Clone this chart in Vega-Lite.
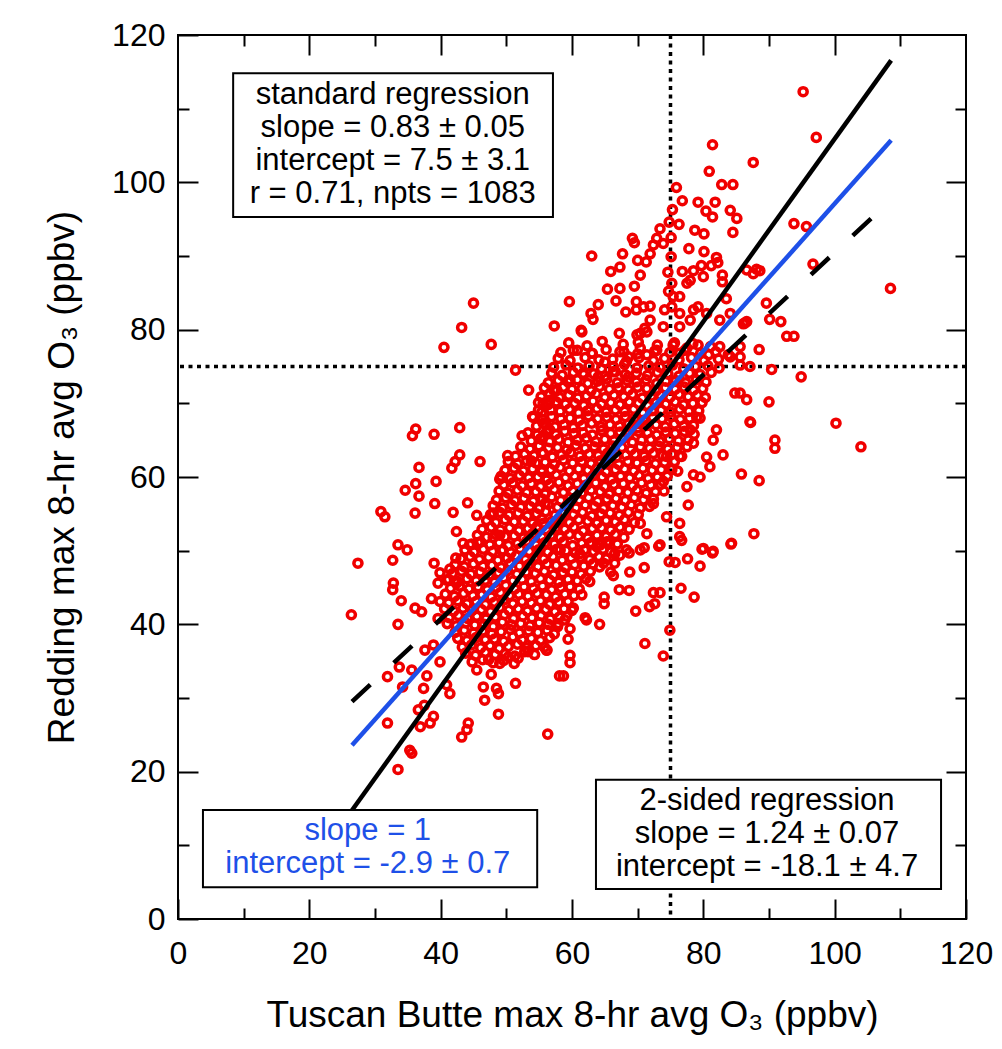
{
  "$schema": "https://vega.github.io/schema/vega-lite/v6.json",
  "width": 788,
  "height": 884,
  "autosize": "none",
  "padding": {"left": 178, "top": 35, "right": 36, "bottom": 130},
  "background": "white",
  "config": {
    "view": {"stroke": "black", "strokeWidth": 2},
    "font": "Liberation Sans",
    "axis": {"domain": false, "grid": false, "tickColor": "black", "tickWidth": 2, "labelColor": "black", "titleColor": "black", "titleFontWeight": "normal", "labelFont": "Liberation Sans", "titleFont": "Liberation Sans"}
  },
  "resolve": {"axis": {"x": "independent", "y": "independent"}},
  "datasets": {
    "pts": [
{"x":45.0,"y":83.6},{"x":43.2,"y":80.3},{"x":40.5,"y":77.6},{"x":47.7,"y":78.0},{"x":57.3,"y":80.5},{"x":51.4,"y":74.5},{"x":53.4,"y":71.8},{"x":57.5,"y":71.7},{"x":55.6,"y":70.0},{"x":54.9,"y":69.1},{"x":54.0,"y":68.2},{"x":36.2,"y":66.5},{"x":35.7,"y":65.6},{"x":39.0,"y":65.8},{"x":42.9,"y":66.7},{"x":52.4,"y":65.6},{"x":55.4,"y":65.1},{"x":42.9,"y":63.0},{"x":42.2,"y":62.1},{"x":41.7,"y":61.2},{"x":46.0,"y":62.1},{"x":50.2,"y":62.9},{"x":53.8,"y":62.2},{"x":55.5,"y":63.3},{"x":36.7,"y":61.3},{"x":39.3,"y":59.4},{"x":36.2,"y":59.1},{"x":34.6,"y":58.2},{"x":36.7,"y":57.4},{"x":39.1,"y":56.4},{"x":44.1,"y":56.5},{"x":30.9,"y":55.3},{"x":31.5,"y":54.6},{"x":36.1,"y":55.1},{"x":41.9,"y":55.2},{"x":45.5,"y":54.8},{"x":48.0,"y":55.1},{"x":49.0,"y":59.7},
{"x":27.4,"y":48.3},{"x":26.4,"y":41.3},{"x":33.5,"y":50.8},{"x":34.9,"y":50.1},{"x":32.7,"y":48.7},{"x":32.8,"y":45.6},{"x":32.7,"y":44.7},{"x":34.0,"y":43.2},{"x":33.5,"y":40.0},{"x":31.9,"y":32.9},{"x":31.9,"y":26.6},{"x":35.3,"y":22.9},{"x":35.6,"y":22.5},{"x":33.5,"y":20.3},{"x":33.7,"y":34.2},{"x":35.6,"y":33.8},{"x":34.2,"y":31.5},{"x":37.4,"y":31.3},{"x":37.9,"y":33.0},{"x":36.6,"y":28.4},{"x":37.5,"y":29.0},{"x":38.9,"y":27.5},{"x":38.4,"y":26.6},{"x":36.9,"y":26.1},{"x":39.0,"y":48.3},{"x":39.9,"y":47.0},{"x":41.4,"y":47.5},{"x":42.3,"y":49.0},{"x":42.4,"y":52.6},{"x":43.4,"y":51.0},{"x":44.4,"y":50.8},{"x":45.7,"y":51.1},{"x":48.0,"y":51.8},{"x":49.0,"y":52.1},{"x":49.5,"y":50.1},{"x":39.6,"y":45.6},{"x":40.9,"y":46.0},{"x":42.4,"y":45.6},{"x":36.1,"y":42.2},{"x":37.1,"y":41.7},{"x":38.6,"y":43.5},{"x":39.9,"y":43.1},{"x":39.6,"y":40.8},{"x":37.6,"y":36.5},{"x":38.9,"y":37.2},{"x":39.9,"y":34.9},{"x":40.9,"y":31.8},{"x":41.4,"y":30.6},{"x":44.2,"y":26.6},{"x":44.0,"y":25.7},{"x":43.2,"y":24.7},{"x":45.5,"y":33.8},{"x":47.7,"y":33.2},{"x":46.5,"y":31.5},{"x":48.5,"y":31.3},{"x":48.8,"y":30.6},{"x":46.7,"y":29.7},{"x":51.4,"y":32.0},{"x":48.8,"y":27.8},{"x":56.3,"y":25.1},{"x":53.3,"y":36.3},{"x":56.1,"y":36.5},{"x":51.8,"y":35.4},{"x":50.3,"y":35.6},{"x":49.0,"y":34.7},{"x":47.3,"y":35.2},{"x":58.1,"y":33.0},
{"x":81.4,"y":105.1},{"x":87.6,"y":102.7},{"x":80.9,"y":101.5},{"x":82.8,"y":99.7},{"x":84.5,"y":99.7},{"x":75.9,"y":99.3},{"x":76.8,"y":97.5},{"x":79.2,"y":97.3},{"x":81.8,"y":97.3},{"x":80.4,"y":96.1},{"x":81.4,"y":95.3},{"x":84.1,"y":96.2},{"x":85.1,"y":95.1},{"x":84.5,"y":93.2},{"x":75.3,"y":96.3},{"x":74.8,"y":94.6},{"x":76.3,"y":94.3},{"x":73.4,"y":93.7},{"x":78.7,"y":93.5},{"x":80.1,"y":93.0},{"x":69.2,"y":92.4},{"x":69.5,"y":91.8},{"x":72.9,"y":92.4},{"x":72.4,"y":91.5},{"x":73.9,"y":91.7},{"x":75.1,"y":92.5},{"x":63.0,"y":90.0},{"x":67.7,"y":90.3},{"x":70.0,"y":89.4},{"x":71.3,"y":89.2},{"x":71.9,"y":90.3},{"x":75.1,"y":89.9},{"x":77.8,"y":91.0},{"x":80.1,"y":90.6},{"x":82.0,"y":89.8},{"x":82.2,"y":89.1},{"x":65.9,"y":87.9},{"x":67.3,"y":88.5},{"x":70.4,"y":87.4},{"x":74.6,"y":87.8},{"x":76.8,"y":87.9},{"x":78.5,"y":88.0},{"x":79.7,"y":88.7},{"x":81.2,"y":88.7},{"x":82.9,"y":87.4},{"x":82.9,"y":86.5},{"x":86.6,"y":88.1},{"x":87.6,"y":87.6},{"x":59.6,"y":83.8},{"x":64.0,"y":83.4},{"x":65.4,"y":85.5},{"x":67.3,"y":85.6},{"x":69.5,"y":85.9},{"x":66.7,"y":83.9},{"x":68.2,"y":82.4},{"x":62.9,"y":82.2},{"x":63.2,"y":81.4},{"x":61.4,"y":79.9},{"x":67.2,"y":79.5},{"x":69.8,"y":83.8},{"x":70.9,"y":83.1},{"x":71.9,"y":83.2},{"x":69.8,"y":82.7},{"x":75.2,"y":86.3},{"x":77.5,"y":86.3},{"x":78.0,"y":86.7},{"x":74.7,"y":85.2},{"x":75.4,"y":84.5},{"x":76.4,"y":84.5},{"x":80.0,"y":87.2},{"x":74.1,"y":82.7},{"x":75.2,"y":83.1},{"x":76.4,"y":82.2},{"x":78.5,"y":82.7},{"x":79.2,"y":83.1},{"x":80.5,"y":82.2},{"x":83.5,"y":84.2},{"x":84.1,"y":82.2},{"x":86.1,"y":80.8},{"x":82.5,"y":81.3},{"x":71.9,"y":81.3},{"x":73.9,"y":80.4},{"x":76.4,"y":80.4},{"x":78.0,"y":81.3},{"x":71.1,"y":80.2},{"x":70.4,"y":79.5},
{"x":95.2,"y":112.3},{"x":97.2,"y":106.1},{"x":93.8,"y":94.4},{"x":95.7,"y":94.0},{"x":88.1,"y":88.2},{"x":88.6,"y":88.0},{"x":96.7,"y":88.9},{"x":108.5,"y":85.6},{"x":89.6,"y":83.6},{"x":86.3,"y":80.9},{"x":86.6,"y":81.1},{"x":90.1,"y":81.4},{"x":91.8,"y":81.1},{"x":92.7,"y":79.1},{"x":93.8,"y":79.1},{"x":85.6,"y":77.7},{"x":85.6,"y":76.3},{"x":88.5,"y":77.3},{"x":87.1,"y":75.0},{"x":90.4,"y":74.6},{"x":94.9,"y":73.6},{"x":86.6,"y":70.5},{"x":90.0,"y":70.2},{"x":85.6,"y":71.4},{"x":87.2,"y":67.4},{"x":100.2,"y":67.3},{"x":90.9,"y":65.0},{"x":90.9,"y":63.9},{"x":104.0,"y":64.1},{"x":85.8,"y":60.4},{"x":88.5,"y":59.5},{"x":87.7,"y":52.3},
{"x":71.0,"y":50.4},{"x":73.2,"y":50.6},{"x":76.7,"y":51.4},{"x":79.8,"y":50.2},{"x":81.4,"y":49.7},{"x":84.2,"y":50.9},{"x":74.8,"y":48.5},{"x":75.7,"y":48.4},{"x":77.6,"y":48.9},{"x":79.5,"y":47.9},{"x":68.7,"y":49.7},{"x":67.3,"y":49.4},{"x":71.0,"y":47.7},{"x":68.8,"y":47.1},{"x":65.9,"y":47.1},{"x":66.3,"y":46.6},{"x":67.2,"y":44.7},{"x":68.7,"y":44.6},{"x":72.4,"y":44.3},{"x":73.4,"y":44.3},{"x":72.6,"y":42.8},{"x":71.8,"y":42.4},{"x":76.6,"y":44.9},{"x":78.6,"y":43.7},{"x":69.7,"y":41.8},{"x":74.9,"y":39.2},{"x":71.1,"y":37.4},{"x":73.9,"y":35.7},{"x":64.9,"y":43.7},{"x":64.9,"y":42.8},{"x":62.0,"y":40.9},{"x":62.2,"y":40.6},{"x":64.2,"y":40.0},{"x":61.5,"y":44.0},{"x":62.7,"y":45.8},{"x":60.2,"y":42.2},{"x":59.7,"y":39.4},{"x":59.4,"y":38.0},{"x":59.7,"y":35.8},{"x":59.7,"y":34.8},{"x":58.7,"y":33.0},{"x":56.2,"y":36.5},{"x":57.9,"y":40.1},{"x":58.9,"y":40.6},{"x":64.8,"y":48.3},{"x":66.5,"y":48.3},{"x":62.7,"y":51.0},{"x":63.8,"y":50.5},{"x":65.3,"y":51.2},
{"x":61.5,"y":79.7},{"x":69.9,"y":79.3},{"x":71.4,"y":79.7},{"x":60.2,"y":77.2},{"x":63.0,"y":76.8},{"x":65.0,"y":75.6},{"x":67.3,"y":77.0},{"x":68.6,"y":76.3},{"x":70.4,"y":77.5},{"x":71.4,"y":76.6},{"x":72.9,"y":77.2},{"x":75.4,"y":77.9},{"x":76.4,"y":76.8},{"x":77.5,"y":77.5},{"x":79.2,"y":77.9},{"x":80.8,"y":76.6},{"x":82.5,"y":77.7},{"x":84.1,"y":76.3},{"x":85.6,"y":75.2},{"x":57.7,"y":71.8},{"x":59.7,"y":73.2},{"x":61.7,"y":74.1},{"x":64.0,"y":73.6},{"x":66.3,"y":74.3},{"x":68.6,"y":73.6},{"x":56.6,"y":70.4},{"x":55.6,"y":67.3},{"x":56.6,"y":66.4},{"x":55.6,"y":65.5},{"x":55.4,"y":61.0},{"x":56.1,"y":59.6},{"x":55.9,"y":56.4},{"x":55.6,"y":53.7},{"x":84.8,"y":71.4},{"x":87.1,"y":67.5},{"x":83.0,"y":63.0},{"x":77.7,"y":56.2},{"x":76.4,"y":51.9},{"x":80.0,"y":50.3},{"x":81.5,"y":49.9},{"x":84.3,"y":51.0},{"x":82.0,"y":66.4},{"x":81.5,"y":65.0},{"x":80.5,"y":62.7},{"x":81.0,"y":61.4},{"x":78.5,"y":60.3},{"x":77.5,"y":58.7},{"x":79.5,"y":60.0},{"x":79.5,"y":68.0},{"x":78.0,"y":66.4},{"x":78.5,"y":64.6},{"x":76.4,"y":62.8},{"x":74.4,"y":62.8},{"x":75.2,"y":61.0},{"x":73.9,"y":59.4},{"x":72.4,"y":56.4},{"x":74.4,"y":54.6},{"x":76.4,"y":53.7},{"x":70.4,"y":53.7},{"x":71.4,"y":52.3},{"x":73.4,"y":50.8},{"x":66.5,"y":49.6},{"x":68.3,"y":50.1},{"x":70.4,"y":50.1},{"x":64.0,"y":51.0},{"x":61.2,"y":49.6},{"x":58.2,"y":50.1},
{"x":59.5,"y":78.2},{"x":62.3,"y":77.8},{"x":64.6,"y":78.4},{"x":67.8,"y":78.0},{"x":70.1,"y":78.3},{"x":73.0,"y":77.9},{"x":75.6,"y":78.2},{"x":78.4,"y":78.1},{"x":81.1,"y":77.7},
{"x":58.3,"y":76.9},{"x":60.8,"y":77.2},{"x":63.1,"y":76.8},{"x":65.2,"y":77.3},{"x":67.9,"y":77.0},{"x":70.0,"y":76.7},{"x":72.6,"y":77.1},{"x":74.9,"y":76.9},{"x":77.2,"y":77.2},{"x":79.6,"y":76.8},{"x":81.9,"y":77.0},{"x":83.8,"y":76.6},
{"x":57.9,"y":76.1},{"x":59.7,"y":75.8},{"x":62.0,"y":76.2},{"x":64.1,"y":75.9},{"x":66.2,"y":76.0},{"x":68.3,"y":75.7},{"x":70.2,"y":76.2},{"x":72.4,"y":75.8},{"x":74.1,"y":76.1},{"x":76.3,"y":75.9},{"x":78.2,"y":76.2},{"x":80.1,"y":75.8},{"x":82.3,"y":76.0},
{"x":57.2,"y":74.9},{"x":59.1,"y":75.2},{"x":60.9,"y":74.8},{"x":62.6,"y":75.1},{"x":64.5,"y":74.7},{"x":66.3,"y":75.0},{"x":68.0,"y":75.3},{"x":69.9,"y":74.8},{"x":71.7,"y":75.1},{"x":73.4,"y":74.9},{"x":75.3,"y":75.2},{"x":77.0,"y":74.7},{"x":78.8,"y":75.0},{"x":80.7,"y":75.1},{"x":82.4,"y":74.8},
{"x":56.9,"y":74.1},{"x":58.5,"y":73.8},{"x":60.2,"y":74.2},{"x":61.8,"y":73.9},{"x":63.3,"y":74.0},{"x":65.0,"y":73.7},{"x":66.6,"y":74.3},{"x":68.1,"y":73.9},{"x":69.8,"y":74.1},{"x":71.5,"y":73.8},{"x":73.0,"y":74.2},{"x":74.6,"y":74.0},{"x":76.3,"y":73.7},{"x":77.9,"y":74.1},{"x":79.5,"y":73.9},{"x":81.2,"y":74.2},
{"x":56.4,"y":72.8},{"x":57.9,"y":73.1},{"x":59.4,"y":72.9},{"x":60.8,"y":73.2},{"x":62.4,"y":72.7},{"x":63.9,"y":73.0},{"x":65.3,"y":73.3},{"x":66.9,"y":72.8},{"x":68.4,"y":73.1},{"x":69.8,"y":72.9},{"x":71.3,"y":73.2},{"x":72.9,"y":72.7},{"x":74.3,"y":73.0},{"x":75.8,"y":73.1},{"x":77.3,"y":72.8},{"x":78.9,"y":73.2},{"x":80.4,"y":72.9},
{"x":55.8,"y":72.1},{"x":57.2,"y":71.8},{"x":58.7,"y":72.2},{"x":60.0,"y":71.9},{"x":61.5,"y":72.0},{"x":62.9,"y":71.7},{"x":64.2,"y":72.3},{"x":65.7,"y":71.9},{"x":67.1,"y":72.1},{"x":68.6,"y":71.8},{"x":70.0,"y":72.2},{"x":71.4,"y":72.0},{"x":72.8,"y":71.7},{"x":74.2,"y":72.1},{"x":75.7,"y":71.9},{"x":77.1,"y":72.2},{"x":78.5,"y":71.8},{"x":79.9,"y":72.0},
{"x":55.3,"y":70.9},{"x":56.6,"y":71.2},{"x":58.1,"y":70.8},{"x":59.5,"y":71.1},{"x":60.9,"y":70.7},{"x":62.2,"y":71.0},{"x":63.7,"y":71.3},{"x":65.0,"y":70.8},{"x":66.4,"y":71.1},{"x":67.9,"y":70.9},{"x":69.2,"y":71.2},{"x":70.7,"y":70.7},{"x":72.1,"y":71.0},{"x":73.5,"y":71.1},{"x":74.9,"y":70.8},{"x":76.3,"y":71.2},{"x":77.7,"y":70.9},{"x":79.1,"y":71.1},{"x":80.3,"y":70.8},
{"x":54.9,"y":70.1},{"x":56.3,"y":69.8},{"x":57.6,"y":70.2},{"x":59.0,"y":69.9},{"x":60.4,"y":70.0},{"x":61.8,"y":69.7},{"x":63.2,"y":70.3},{"x":64.5,"y":69.9},{"x":65.9,"y":70.1},{"x":67.3,"y":69.8},{"x":68.7,"y":70.2},{"x":70.1,"y":70.0},{"x":71.5,"y":69.7},{"x":72.8,"y":70.1},{"x":74.3,"y":69.9},{"x":75.7,"y":70.2},{"x":77.0,"y":69.8},{"x":78.4,"y":70.0},{"x":79.8,"y":70.1},
{"x":55.4,"y":68.8},{"x":56.8,"y":69.1},{"x":58.2,"y":68.9},{"x":59.6,"y":69.2},{"x":61.0,"y":68.7},{"x":62.4,"y":69.0},{"x":63.8,"y":69.3},{"x":65.2,"y":68.8},{"x":66.6,"y":69.1},{"x":68.0,"y":68.9},{"x":69.4,"y":69.2},{"x":70.8,"y":68.7},{"x":72.2,"y":69.0},{"x":73.6,"y":69.1},{"x":75.0,"y":68.8},{"x":76.4,"y":69.2},{"x":77.8,"y":68.9},{"x":79.3,"y":69.0},
{"x":54.1,"y":68.1},{"x":55.5,"y":67.8},{"x":56.9,"y":68.2},{"x":58.3,"y":67.9},{"x":59.7,"y":68.0},{"x":61.1,"y":67.7},{"x":62.5,"y":68.3},{"x":63.9,"y":67.9},{"x":65.3,"y":68.1},{"x":66.7,"y":67.8},{"x":68.1,"y":68.2},{"x":69.5,"y":68.0},{"x":70.9,"y":67.7},{"x":72.3,"y":68.1},{"x":73.7,"y":67.9},{"x":75.1,"y":68.2},{"x":76.5,"y":67.8},{"x":77.9,"y":68.0},{"x":79.0,"y":68.1},
{"x":54.6,"y":66.9},{"x":56.0,"y":67.2},{"x":57.4,"y":66.8},{"x":58.8,"y":67.1},{"x":60.2,"y":66.7},{"x":61.6,"y":67.0},{"x":63.0,"y":67.3},{"x":64.4,"y":66.8},{"x":65.8,"y":67.1},{"x":67.2,"y":66.9},{"x":68.6,"y":67.2},{"x":70.0,"y":66.7},{"x":71.4,"y":67.0},{"x":72.8,"y":67.1},{"x":74.2,"y":66.8},{"x":75.6,"y":67.2},{"x":77.0,"y":66.9},{"x":78.5,"y":67.0},
{"x":53.3,"y":66.0},{"x":54.7,"y":65.7},{"x":56.1,"y":66.1},{"x":57.5,"y":65.8},{"x":58.9,"y":66.2},{"x":60.3,"y":65.9},{"x":61.7,"y":66.0},{"x":63.1,"y":65.7},{"x":64.5,"y":66.3},{"x":65.9,"y":65.9},{"x":67.3,"y":66.1},{"x":68.7,"y":65.8},{"x":70.1,"y":66.2},{"x":71.5,"y":66.0},{"x":72.9,"y":65.7},{"x":74.3,"y":66.1},{"x":75.7,"y":65.9},{"x":77.1,"y":66.2},{"x":78.6,"y":65.8},
{"x":53.8,"y":64.9},{"x":55.2,"y":65.2},{"x":56.6,"y":64.8},{"x":58.0,"y":65.1},{"x":59.4,"y":64.7},{"x":60.8,"y":65.0},{"x":62.2,"y":65.3},{"x":63.6,"y":64.8},{"x":65.0,"y":65.1},{"x":66.4,"y":64.9},{"x":67.8,"y":65.2},{"x":69.2,"y":64.7},{"x":70.6,"y":65.0},{"x":72.0,"y":65.1},{"x":73.4,"y":64.8},{"x":74.8,"y":65.2},{"x":76.2,"y":64.9},{"x":77.7,"y":65.0},
{"x":52.2,"y":64.1},{"x":53.6,"y":63.8},{"x":55.0,"y":64.2},{"x":56.4,"y":63.9},{"x":57.8,"y":64.0},{"x":59.2,"y":63.7},{"x":60.6,"y":64.3},{"x":62.0,"y":63.9},{"x":63.4,"y":64.1},{"x":64.8,"y":63.8},{"x":66.2,"y":64.2},{"x":67.6,"y":64.0},{"x":69.0,"y":63.7},{"x":70.4,"y":64.1},{"x":71.8,"y":63.9},{"x":73.2,"y":64.2},{"x":74.6,"y":63.8},{"x":76.0,"y":64.0},{"x":77.5,"y":64.1},
{"x":51.4,"y":62.8},{"x":52.8,"y":63.1},{"x":54.2,"y":62.9},{"x":55.6,"y":63.2},{"x":57.0,"y":62.7},{"x":58.4,"y":63.0},{"x":59.8,"y":63.3},{"x":61.2,"y":62.8},{"x":62.6,"y":63.1},{"x":64.0,"y":62.9},{"x":65.4,"y":63.2},{"x":66.8,"y":62.7},{"x":68.2,"y":63.0},{"x":69.6,"y":63.1},{"x":71.0,"y":62.8},{"x":72.4,"y":63.2},{"x":73.8,"y":62.9},{"x":75.2,"y":63.1},{"x":76.7,"y":62.8},
{"x":50.3,"y":62.1},{"x":51.7,"y":61.8},{"x":53.1,"y":62.2},{"x":54.5,"y":61.9},{"x":55.9,"y":62.0},{"x":57.3,"y":61.7},{"x":58.7,"y":62.3},{"x":60.1,"y":61.9},{"x":61.5,"y":62.1},{"x":62.9,"y":61.8},{"x":64.3,"y":62.2},{"x":65.7,"y":62.0},{"x":67.1,"y":61.7},{"x":68.5,"y":62.1},{"x":69.9,"y":61.9},{"x":71.3,"y":62.2},{"x":72.7,"y":61.8},{"x":74.1,"y":62.0},{"x":75.6,"y":62.1},
{"x":49.8,"y":60.9},{"x":51.2,"y":61.2},{"x":52.6,"y":60.8},{"x":54.0,"y":61.1},{"x":55.4,"y":60.7},{"x":56.8,"y":61.0},{"x":58.2,"y":61.3},{"x":59.6,"y":60.8},{"x":61.0,"y":61.1},{"x":62.4,"y":60.9},{"x":63.8,"y":61.2},{"x":65.2,"y":60.7},{"x":66.6,"y":61.0},{"x":68.0,"y":61.1},{"x":69.4,"y":60.8},{"x":70.8,"y":61.2},{"x":72.2,"y":60.9},{"x":73.6,"y":61.0},{"x":75.0,"y":61.1},{"x":76.1,"y":60.8},
{"x":49.2,"y":60.1},{"x":50.6,"y":59.8},{"x":52.0,"y":60.2},{"x":53.4,"y":59.9},{"x":54.8,"y":60.0},{"x":56.2,"y":59.7},{"x":57.6,"y":60.3},{"x":59.0,"y":59.9},{"x":60.4,"y":60.1},{"x":61.8,"y":59.8},{"x":63.2,"y":60.2},{"x":64.6,"y":60.0},{"x":66.0,"y":59.7},{"x":67.4,"y":60.1},{"x":68.8,"y":59.9},{"x":70.2,"y":60.2},{"x":71.6,"y":59.8},{"x":73.0,"y":60.0},{"x":74.5,"y":60.1},
{"x":49.6,"y":58.9},{"x":51.0,"y":59.2},{"x":52.4,"y":58.8},{"x":53.8,"y":59.1},{"x":55.2,"y":58.7},{"x":56.6,"y":59.0},{"x":58.0,"y":59.3},{"x":59.4,"y":58.8},{"x":60.8,"y":59.1},{"x":62.2,"y":58.9},{"x":63.6,"y":59.2},{"x":65.0,"y":58.7},{"x":66.4,"y":59.0},{"x":67.8,"y":59.1},{"x":69.2,"y":58.8},{"x":70.6,"y":59.2},{"x":72.0,"y":58.9},{"x":73.5,"y":59.0},
{"x":48.9,"y":58.1},{"x":50.3,"y":57.8},{"x":51.7,"y":58.2},{"x":53.1,"y":57.9},{"x":54.5,"y":58.0},{"x":55.9,"y":57.7},{"x":57.3,"y":58.3},{"x":58.7,"y":57.9},{"x":60.1,"y":58.1},{"x":61.5,"y":57.8},{"x":62.9,"y":58.2},{"x":64.3,"y":58.0},{"x":65.7,"y":57.7},{"x":67.1,"y":58.1},{"x":68.5,"y":57.9},{"x":69.9,"y":58.2},{"x":71.3,"y":57.8},{"x":72.7,"y":58.0},{"x":74.0,"y":58.1},
{"x":48.5,"y":56.9},{"x":49.9,"y":57.2},{"x":51.3,"y":56.8},{"x":52.7,"y":57.1},{"x":54.1,"y":56.7},{"x":55.5,"y":57.0},{"x":56.9,"y":57.3},{"x":58.3,"y":56.8},{"x":59.7,"y":57.1},{"x":61.1,"y":56.9},{"x":62.5,"y":57.2},{"x":63.9,"y":56.7},{"x":65.3,"y":57.0},{"x":66.7,"y":57.1},{"x":68.1,"y":56.8},{"x":69.5,"y":57.2},{"x":70.9,"y":56.9},{"x":72.4,"y":57.0},
{"x":48.0,"y":56.1},{"x":49.4,"y":55.8},{"x":50.8,"y":56.2},{"x":52.2,"y":55.9},{"x":53.6,"y":56.0},{"x":55.0,"y":55.7},{"x":56.4,"y":56.3},{"x":57.8,"y":55.9},{"x":59.2,"y":56.1},{"x":60.6,"y":55.8},{"x":62.0,"y":56.2},{"x":63.4,"y":56.0},{"x":64.8,"y":55.7},{"x":66.2,"y":56.1},{"x":67.6,"y":55.9},{"x":69.0,"y":56.2},{"x":70.4,"y":55.8},{"x":71.8,"y":56.0},
{"x":47.6,"y":54.9},{"x":49.0,"y":55.2},{"x":50.4,"y":54.8},{"x":51.8,"y":55.1},{"x":53.2,"y":54.7},{"x":54.6,"y":55.0},{"x":56.0,"y":55.3},{"x":57.4,"y":54.8},{"x":58.8,"y":55.1},{"x":60.2,"y":54.9},{"x":61.6,"y":55.2},{"x":63.0,"y":54.7},{"x":64.4,"y":55.0},{"x":65.8,"y":55.1},{"x":67.2,"y":54.8},{"x":68.6,"y":55.2},{"x":70.1,"y":54.9},
{"x":47.0,"y":54.1},{"x":48.4,"y":53.8},{"x":49.8,"y":54.2},{"x":51.2,"y":53.9},{"x":52.6,"y":54.0},{"x":54.0,"y":53.7},{"x":55.4,"y":54.3},{"x":56.8,"y":53.9},{"x":58.2,"y":54.1},{"x":59.6,"y":53.8},{"x":61.0,"y":54.2},{"x":62.4,"y":54.0},{"x":63.8,"y":53.7},{"x":65.2,"y":54.1},{"x":66.6,"y":53.9},{"x":68.0,"y":54.2},{"x":69.5,"y":53.8},
{"x":46.3,"y":52.9},{"x":47.7,"y":53.2},{"x":49.1,"y":52.8},{"x":50.5,"y":53.1},{"x":51.9,"y":52.7},{"x":53.3,"y":53.0},{"x":54.7,"y":53.3},{"x":56.1,"y":52.8},{"x":57.5,"y":53.1},{"x":58.9,"y":52.9},{"x":60.3,"y":53.2},{"x":61.7,"y":52.7},{"x":63.1,"y":53.0},{"x":64.5,"y":53.1},{"x":65.9,"y":52.8},{"x":67.3,"y":53.2},{"x":68.7,"y":52.9},
{"x":45.6,"y":52.1},{"x":47.0,"y":51.8},{"x":48.4,"y":52.2},{"x":49.8,"y":51.9},{"x":51.2,"y":52.0},{"x":52.6,"y":51.7},{"x":54.0,"y":52.3},{"x":55.4,"y":51.9},{"x":56.8,"y":52.1},{"x":58.2,"y":51.8},{"x":59.6,"y":52.2},{"x":61.0,"y":52.0},{"x":62.4,"y":51.7},{"x":63.8,"y":52.1},{"x":65.2,"y":51.9},{"x":66.6,"y":52.2},{"x":67.9,"y":51.8},
{"x":44.7,"y":50.9},{"x":46.1,"y":51.2},{"x":47.5,"y":50.8},{"x":48.9,"y":51.1},{"x":50.3,"y":50.7},{"x":51.7,"y":51.0},{"x":53.1,"y":51.3},{"x":54.5,"y":50.8},{"x":55.9,"y":51.1},{"x":57.3,"y":50.9},{"x":58.7,"y":51.2},{"x":60.1,"y":50.7},{"x":61.5,"y":51.0},{"x":62.9,"y":51.1},{"x":64.3,"y":50.8},{"x":65.7,"y":51.2},{"x":66.9,"y":50.9},
{"x":43.7,"y":50.1},{"x":45.1,"y":49.8},{"x":46.5,"y":50.2},{"x":47.9,"y":49.9},{"x":49.3,"y":50.0},{"x":50.7,"y":49.7},{"x":52.1,"y":50.3},{"x":53.5,"y":49.9},{"x":54.9,"y":50.1},{"x":56.3,"y":49.8},{"x":57.7,"y":50.2},{"x":59.1,"y":50.0},{"x":60.5,"y":49.7},{"x":61.9,"y":50.1},{"x":63.3,"y":49.9},{"x":64.7,"y":50.2},{"x":65.9,"y":49.8},
{"x":43.1,"y":48.9},{"x":44.5,"y":49.2},{"x":45.9,"y":48.8},{"x":47.3,"y":49.1},{"x":48.7,"y":48.7},{"x":50.1,"y":49.0},{"x":51.5,"y":49.3},{"x":52.9,"y":48.8},{"x":54.3,"y":49.1},{"x":55.7,"y":48.9},{"x":57.1,"y":49.2},{"x":58.5,"y":48.7},{"x":59.9,"y":49.0},{"x":61.3,"y":49.1},{"x":62.7,"y":48.8},{"x":64.1,"y":49.2},{"x":65.2,"y":48.9},
{"x":42.2,"y":48.1},{"x":43.6,"y":47.8},{"x":45.0,"y":48.2},{"x":46.4,"y":47.9},{"x":47.8,"y":48.0},{"x":49.2,"y":47.7},{"x":50.6,"y":48.3},{"x":52.0,"y":47.9},{"x":53.4,"y":48.1},{"x":54.8,"y":47.8},{"x":56.2,"y":48.2},{"x":57.6,"y":48.0},{"x":59.0,"y":47.7},{"x":60.4,"y":48.1},{"x":61.8,"y":47.9},{"x":63.2,"y":48.2},{"x":64.2,"y":47.8},
{"x":41.8,"y":46.9},{"x":43.2,"y":47.2},{"x":44.6,"y":46.8},{"x":46.0,"y":47.1},{"x":47.4,"y":46.7},{"x":48.8,"y":47.0},{"x":50.2,"y":47.3},{"x":51.6,"y":46.8},{"x":53.0,"y":47.1},{"x":54.4,"y":46.9},{"x":55.8,"y":47.2},{"x":57.2,"y":46.7},{"x":58.6,"y":47.0},{"x":60.0,"y":47.1},{"x":61.4,"y":46.8},{"x":62.8,"y":47.2},
{"x":41.2,"y":46.1},{"x":42.6,"y":45.8},{"x":44.0,"y":46.2},{"x":45.4,"y":45.9},{"x":46.8,"y":46.0},{"x":48.2,"y":45.7},{"x":49.6,"y":46.3},{"x":51.0,"y":45.9},{"x":52.4,"y":46.1},{"x":53.8,"y":45.8},{"x":55.2,"y":46.2},{"x":56.6,"y":46.0},{"x":58.0,"y":45.7},{"x":59.4,"y":46.1},{"x":60.8,"y":45.9},{"x":62.1,"y":46.2},
{"x":41.5,"y":44.9},{"x":42.9,"y":45.2},{"x":44.3,"y":44.8},{"x":45.7,"y":45.1},{"x":47.1,"y":44.7},{"x":48.5,"y":45.0},{"x":49.9,"y":45.3},{"x":51.3,"y":44.8},{"x":52.7,"y":45.1},{"x":54.1,"y":44.9},{"x":55.5,"y":45.2},{"x":56.9,"y":44.7},{"x":58.3,"y":45.0},{"x":59.7,"y":45.1},{"x":61.1,"y":44.8},
{"x":40.7,"y":44.1},{"x":42.1,"y":43.8},{"x":43.5,"y":44.2},{"x":44.9,"y":43.9},{"x":46.3,"y":44.0},{"x":47.7,"y":43.7},{"x":49.1,"y":44.3},{"x":50.5,"y":43.9},{"x":51.9,"y":44.1},{"x":53.3,"y":43.8},{"x":54.7,"y":44.2},{"x":56.1,"y":44.0},{"x":57.5,"y":43.7},{"x":58.9,"y":44.1},{"x":60.3,"y":43.9},
{"x":41.2,"y":42.9},{"x":42.6,"y":43.2},{"x":44.0,"y":42.8},{"x":45.4,"y":43.1},{"x":46.8,"y":42.7},{"x":48.2,"y":43.0},{"x":49.6,"y":43.3},{"x":51.0,"y":42.8},{"x":52.4,"y":43.1},{"x":53.8,"y":42.9},{"x":55.2,"y":43.2},{"x":56.6,"y":42.7},{"x":58.0,"y":43.0},{"x":59.4,"y":43.1},
{"x":40.6,"y":42.1},{"x":42.0,"y":41.8},{"x":43.4,"y":42.2},{"x":44.8,"y":41.9},{"x":46.2,"y":42.0},{"x":47.6,"y":41.7},{"x":49.0,"y":42.3},{"x":50.4,"y":41.9},{"x":51.8,"y":42.1},{"x":53.2,"y":41.8},{"x":54.6,"y":42.2},{"x":56.0,"y":42.0},{"x":57.4,"y":41.7},{"x":58.8,"y":42.1},{"x":60.0,"y":41.9},
{"x":41.3,"y":40.9},{"x":42.7,"y":41.2},{"x":44.1,"y":40.8},{"x":45.5,"y":41.1},{"x":46.9,"y":40.7},{"x":48.3,"y":41.0},{"x":49.7,"y":41.3},{"x":51.1,"y":40.8},{"x":52.5,"y":41.1},{"x":53.9,"y":40.9},{"x":55.3,"y":41.2},{"x":56.7,"y":40.7},{"x":58.1,"y":41.0},{"x":59.2,"y":41.1},
{"x":41.0,"y":40.1},{"x":42.4,"y":39.8},{"x":43.8,"y":40.2},{"x":45.2,"y":39.9},{"x":46.6,"y":40.0},{"x":48.0,"y":39.7},{"x":49.4,"y":40.3},{"x":50.8,"y":39.9},{"x":52.2,"y":40.1},{"x":53.6,"y":39.8},{"x":55.0,"y":40.2},{"x":56.4,"y":40.0},{"x":57.8,"y":39.7},
{"x":42.2,"y":38.9},{"x":43.6,"y":39.2},{"x":45.0,"y":38.8},{"x":46.4,"y":39.1},{"x":47.8,"y":38.7},{"x":49.2,"y":39.0},{"x":50.6,"y":39.3},{"x":52.0,"y":38.8},{"x":53.4,"y":39.1},{"x":54.8,"y":38.9},{"x":56.2,"y":39.2},{"x":57.3,"y":38.7},
{"x":42.6,"y":38.1},{"x":44.0,"y":37.8},{"x":45.4,"y":38.2},{"x":46.8,"y":37.9},{"x":48.2,"y":38.0},{"x":49.6,"y":37.7},{"x":51.0,"y":38.3},{"x":52.4,"y":37.9},{"x":53.8,"y":38.1},{"x":55.2,"y":37.8},{"x":56.6,"y":38.2},
{"x":43.3,"y":36.9},{"x":44.7,"y":37.2},{"x":46.1,"y":36.8},{"x":47.5,"y":37.1},{"x":48.9,"y":36.7},{"x":50.3,"y":37.0},{"x":51.7,"y":37.3},{"x":53.1,"y":36.8},{"x":54.5,"y":37.1},{"x":55.8,"y":36.9},
{"x":43.8,"y":36.1},{"x":45.3,"y":35.8},{"x":46.8,"y":36.2},{"x":48.3,"y":35.9},{"x":49.8,"y":36.0},{"x":51.3,"y":35.7},{"x":52.8,"y":36.3},{"x":54.3,"y":35.9},
{"x":44.8,"y":34.9},{"x":46.4,"y":35.2},{"x":48.0,"y":34.8},{"x":49.6,"y":35.1},{"x":51.2,"y":34.7}
    ],
    "fit2": [{"x": 26.5, "y": 14.76}, {"x": 108.6, "y": 116.56}],
    "fit1": [{"x": 26.5, "y": 23.6}, {"x": 108.6, "y": 105.7}],
    "fitstd": [{"x": 26.5, "y": 29.5}, {"x": 105.7, "y": 95.2}],
    "boxes": [
      {"x": 8.4, "x2": 57.1, "y": 95.3, "y2": 114.8},
      {"x": 3.8, "x2": 54.7, "y": 4.3, "y2": 14.8},
      {"x": 63.65, "x2": 116.2, "y": 4.07, "y2": 18.9}
    ],
    "labels": [
      {"x": 32.7, "y": 110.57, "t": "standard regression", "c": "k"},
      {"x": 32.7, "y": 106.09, "t": "slope = 0.83 ± 0.05", "c": "k"},
      {"x": 32.7, "y": 101.61, "t": "intercept = 7.5 ± 3.1", "c": "k"},
      {"x": 32.7, "y": 97.13, "t": "r = 0.71, npts = 1083", "c": "k"},
      {"x": 28.9, "y": 10.72, "t": "slope = 1", "c": "b"},
      {"x": 28.9, "y": 6.24, "t": "intercept = -2.9 ± 0.7", "c": "b"},
      {"x": 89.7, "y": 14.8, "t": "2-sided regression", "c": "k"},
      {"x": 89.7, "y": 10.32, "t": "slope = 1.24 ± 0.07", "c": "k"},
      {"x": 89.7, "y": 5.84, "t": "intercept = -18.1 ± 4.7", "c": "k"}
    ],
    "ref": [{"v": 75}]
  },
  "layer": [
    {
      "data": {"name": "ref"},
      "mark": {"type": "rule", "color": "black", "strokeWidth": 3.5, "strokeDash": [4, 4.5]},
      "encoding": {"x": {"field": "v", "type": "quantitative", "scale": {"domain": [0, 120], "nice": false}, "axis": null}}
    },
    {
      "data": {"name": "ref"},
      "mark": {"type": "rule", "color": "black", "strokeWidth": 3.5, "strokeDash": [4, 4.5]},
      "encoding": {"y": {"field": "v", "type": "quantitative", "scale": {"domain": [0, 120], "nice": false}, "axis": null}}
    },
    {
      "data": {"name": "pts"},
      "mark": {"type": "point", "shape": "circle", "filled": false, "color": "#f00000", "strokeWidth": 3.5, "size": 66, "opacity": 1},
      "encoding": {
        "x": {"field": "x", "type": "quantitative", "scale": {"domain": [0, 120], "nice": false},
          "axis": {"orient": "bottom", "values": [0, 20, 40, 60, 80, 100, 120], "tickSize": -20, "labelPadding": 39, "labelFontSize": 32, "labelFlush": false, "labelOverlap": false, "title": "Tuscan Butte max 8-hr avg O₃ (ppbv)", "titleFontSize": 37, "titlePadding": 28}},
        "y": {"field": "y", "type": "quantitative", "scale": {"domain": [0, 120], "nice": false},
          "axis": {"orient": "left", "values": [0, 20, 40, 60, 80, 100, 120], "tickSize": -20, "labelPadding": 33, "labelFontSize": 32, "labelFlush": false, "labelOverlap": false, "title": "Redding max 8-hr avg O₃ (ppbv)", "titleFontSize": 37, "titlePadding": 30}}
      }
    },
    {
      "data": {"name": "fit1"},
      "mark": {"type": "line", "color": "#1e50e8", "strokeWidth": 4.5},
      "encoding": {
        "x": {"field": "x", "type": "quantitative", "scale": {"domain": [0, 120], "nice": false},
          "axis": {"orient": "bottom", "values": [10, 30, 50, 70, 90, 110], "tickSize": -11, "labels": false, "title": null}},
        "y": {"field": "y", "type": "quantitative", "scale": {"domain": [0, 120], "nice": false},
          "axis": {"orient": "left", "values": [10, 30, 50, 70, 90, 110], "tickSize": -11, "labels": false, "title": null}}
      }
    },
    {
      "data": {"name": "fit2"},
      "mark": {"type": "line", "color": "black", "strokeWidth": 4.5},
      "encoding": {
        "x": {"field": "x", "type": "quantitative", "scale": {"domain": [0, 120], "nice": false},
          "axis": {"orient": "top", "values": [20, 40, 60, 80, 100], "tickSize": -20, "labels": false, "title": null}},
        "y": {"field": "y", "type": "quantitative", "scale": {"domain": [0, 120], "nice": false},
          "axis": {"orient": "right", "values": [20, 40, 60, 80, 100], "tickSize": -20, "labels": false, "title": null}}
      }
    },
    {
      "data": {"name": "fitstd"},
      "mark": {"type": "line", "color": "black", "strokeWidth": 4.5, "strokeDash": [25, 32]},
      "encoding": {
        "x": {"field": "x", "type": "quantitative", "scale": {"domain": [0, 120], "nice": false},
          "axis": {"orient": "top", "values": [10, 30, 50, 70, 90, 110], "tickSize": -11, "labels": false, "title": null}},
        "y": {"field": "y", "type": "quantitative", "scale": {"domain": [0, 120], "nice": false},
          "axis": {"orient": "right", "values": [10, 30, 50, 70, 90, 110], "tickSize": -11, "labels": false, "title": null}}
      }
    },
    {
      "data": {"name": "boxes"},
      "mark": {"type": "rect", "fill": "white", "stroke": "black", "strokeWidth": 2},
      "encoding": {
        "x": {"field": "x", "type": "quantitative", "scale": {"domain": [0, 120], "nice": false}, "axis": null},
        "x2": {"field": "x2"},
        "y": {"field": "y", "type": "quantitative", "scale": {"domain": [0, 120], "nice": false}, "axis": null},
        "y2": {"field": "y2"}
      }
    },
    {
      "data": {"name": "labels"},
      "mark": {"type": "text", "fontSize": 31, "align": "center", "baseline": "alphabetic", "font": "Liberation Sans"},
      "encoding": {
        "x": {"field": "x", "type": "quantitative", "scale": {"domain": [0, 120], "nice": false}, "axis": null},
        "y": {"field": "y", "type": "quantitative", "scale": {"domain": [0, 120], "nice": false}, "axis": null},
        "text": {"field": "t"},
        "color": {"field": "c", "type": "nominal", "scale": {"domain": ["k", "b"], "range": ["black", "#1e50e8"]}, "legend": null}
      }
    }
  ]
}
